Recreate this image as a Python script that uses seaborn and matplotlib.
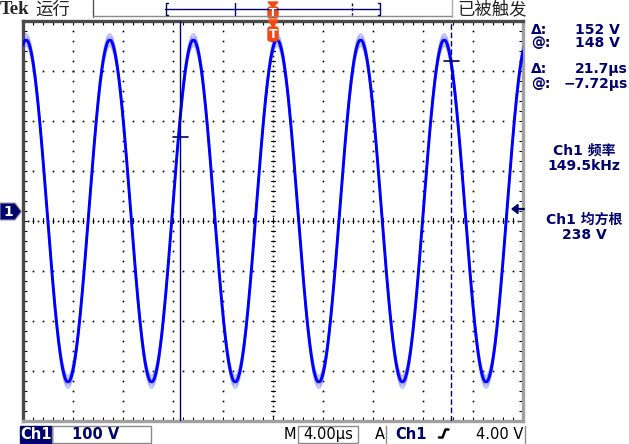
import numpy as np
import pandas as pd
import matplotlib
matplotlib.use("Agg")
import matplotlib.pyplot as plt
from matplotlib.patches import Polygon, Rectangle, FancyBboxPatch
from matplotlib.ticker import MultipleLocator
import seaborn as sns

# scope settings shown on screen
time_per_div_us = 4.0
volts_per_div = 100
t_range_us = [-20, 20]
v_range = [-420, 380]          # ground marker sits 0.2 div above centre

# waveform
freq_khz = 149.5
amp_v = 342
peak_t_us = 0.32
envelope_scales = [0.965, 0.98, 1.02, 1.035]

# cursors
cursor_t_us = [-7.44, 14.26]
cursor_v = [148, 300]
trig_level_v = 4

# readouts
readout_labels = ["Δ:", "@:", "Δ:", "@:"]
readout_values = ["152 V", "148 V", "21.7µs", "−7.72µs"]
meas_names = ["Ch1 频率", "Ch1 均方根"]
meas_values = ["149.5kHz", "238 V"]
header_left = ["Tek", "运行"]
header_right = "已被触发"
bottom_texts = ["Ch1", "100 V", "M", "4.00µs", "A", "Ch1", "4.00 V"]

NAVY = "#00006e"
ORANGE = "#f24a12"
CJK = ["DejaVu Sans", "Noto Sans CJK SC"]

sns.set_style("white")
plt.rcParams["font.family"] = CJK

fig = plt.figure(figsize=(6.29, 4.44), dpi=100)
W, H = 629, 444
ax = fig.add_axes([23 / W, (H - 421) / H, 500 / W, 400 / H])
ax.set_xlim(*t_range_us)
ax.set_ylim(*v_range)

# trace
t = np.linspace(t_range_us[0], t_range_us[1], 3001)
for s in envelope_scales:
    df = pd.DataFrame({"t": t, "v": s * amp_v * np.cos(2 * np.pi * freq_khz / 1000 * (t - peak_t_us))})
    sns.lineplot(data=df, x="t", y="v", ax=ax, color="#4a4aff", lw=1.3, alpha=0.35, zorder=3)
df = pd.DataFrame({"t": t, "v": amp_v * np.cos(2 * np.pi * freq_khz / 1000 * (t - peak_t_us))})
sns.lineplot(data=df, x="t", y="v", ax=ax, color="#0000ff", lw=2.1, zorder=4)

# graticule dots
dot = dict(ls="none", marker="s", ms=1.2, mew=0, color="black", zorder=2)
gy = np.arange(v_range[0], v_range[1] + 1, volts_per_div / 5)
gx = np.arange(t_range_us[0], t_range_us[1] + 0.01, time_per_div_us / 5)
for k in range(1, 10):
    xv = t_range_us[0] + k * time_per_div_us
    if k != 5:
        ax.plot(np.full_like(gy, xv), gy, **dot)
for k in range(1, 8):
    yv = v_range[0] + k * volts_per_div
    if k != 4:
        ax.plot(gx, np.full_like(gx, yv), **dot)
# centre cross with finer marks
yc = v_range[0] + 4 * volts_per_div
cx = np.arange(t_range_us[0], t_range_us[1] + 0.01, time_per_div_us / 10)
cy = np.arange(v_range[0], v_range[1] + 1, volts_per_div / 10)
ax.plot(cx, np.full_like(cx, yc), **dot)
ax.plot(np.zeros_like(cy), cy, **dot)
for xv in gx:
    ax.plot([xv, xv], [yc - 5, yc + 5], color="black", lw=0.8, zorder=2)
for yv in gy:
    ax.plot([-0.18, 0.18], [yv, yv], color="black", lw=0.8, zorder=2)

# border ticks and frame
ax.xaxis.set_major_locator(MultipleLocator(time_per_div_us))
ax.xaxis.set_minor_locator(MultipleLocator(time_per_div_us / 5))
ax.yaxis.set_major_locator(MultipleLocator(volts_per_div))
ax.yaxis.set_minor_locator(MultipleLocator(volts_per_div / 5))
ax.tick_params(which="both", direction="in", length=3, width=0.8, colors="black",
               top=True, right=True, bottom=True, left=True,
               labelbottom=False, labelleft=False)
ax.set_xlabel("")
ax.set_ylabel("")
for side in ["left", "top"]:
    ax.spines[side].set_color("#4a4a4a")
    ax.spines[side].set_linewidth(2.4)
for side in ["right", "bottom"]:
    ax.spines[side].set_color("#a0a0a0")
    ax.spines[side].set_linewidth(2.4)

# cursors
ax.axvline(cursor_t_us[0], color=NAVY, lw=1.0, zorder=5)
ax.axvline(cursor_t_us[1], color=NAVY, lw=1.0, ls=(0, (4, 2)), zorder=5)
for tc, vc in zip(cursor_t_us, cursor_v):
    ax.plot([tc - 0.6, tc + 0.6], [vc, vc], color=NAVY, lw=1.2, zorder=5)

# overlay in pixel coordinates
ov = fig.add_axes([0, 0, 1, 1], facecolor="none")
ov.set_xlim(0, W)
ov.set_ylim(H, 0)
ov.axis("off")

# trigger level arrow on right edge
y_tr = 211 - trig_level_v / 2
ov.add_patch(Polygon([[512, y_tr], [518, y_tr - 4.5], [518, y_tr + 4.5]], color=NAVY))
ov.plot([517, 524], [y_tr, y_tr], color=NAVY, lw=1.6)

# channel 1 ground marker
ov.add_patch(Polygon([[0, 203], [15, 203], [21.5, 211.5], [15, 220], [0, 220]],
                     facecolor=NAVY, edgecolor="#9a9aa8", lw=0.8))
ov.text(8, 212, "1", color="white", fontsize=10, weight="bold", ha="center", va="center")

# header
ov.text(0, 9.5, header_left[0], family="Liberation Serif", weight="bold", fontsize=13.5,
        va="center", ha="left")
ov.text(35, 9.5, header_left[1], family=CJK, fontsize=12.5, color="#222222", va="center")
ov.text(457, 9.5, header_right, family=CJK, fontsize=12.5, color="#222222", va="center")
ov.plot([93, 93], [0, 17], color="#555555", lw=1)
ov.plot([93, 452], [16.5, 16.5], color="#8a8a8a", lw=1)
ov.plot([452, 452], [0, 17], color="#aaaaaa", lw=1)

# record bracket
ov.plot([165, 380], [9, 9], color=NAVY, lw=1)
ov.plot([167.5, 165.5, 165.5, 167.5], [3, 3, 15, 15], color=NAVY, lw=1)
ov.plot([377.5, 379.5, 379.5, 377.5], [3, 3, 15, 15], color=NAVY, lw=1)
ov.plot([235, 235], [3, 15], color=NAVY, lw=1)
ov.plot([352, 352], [3, 15], color=NAVY, lw=1, ls=(0, (2, 1.5)))

# trigger position markers
for top in [2, 20]:
    h = 5 if top == 2 else 7
    ov.add_patch(Polygon([[268, top], [278, top], [273, top + h]], color=ORANGE))
    bh = 11 if top == 2 else 14
    ov.add_patch(FancyBboxPatch((268, top + h), 10, bh, boxstyle="round,pad=0,rounding_size=2",
                                color=ORANGE))
    ov.text(273, top + h + bh / 2 + 0.5, "T", color="white", fontsize=8 if top == 2 else 9,
            weight="bold", ha="center", va="center")

# cursor readouts
ys = [30, 43, 69, 84]
for lab, val, yy in zip(readout_labels, readout_values, ys):
    ov.text(531, yy, lab, color=NAVY, fontsize=10, weight="bold", va="center", ha="left")
    ov.text(628 if "µs" in val else 620, yy, val, color=NAVY, fontsize=10, weight="bold",
            va="center", ha="right")

# measurements
for name, val, yy in zip(meas_names, meas_values, [151, 220]):
    ov.text(584, yy, name, color=NAVY, fontsize=10, weight="bold", va="center", ha="center")
    ov.text(584, yy + 15, val, color=NAVY, fontsize=10, weight="bold", va="center", ha="center")

# bottom status bar
yb = 434
ov.add_patch(Rectangle((20, 425.5), 31.5, 17, color=NAVY))
ov.text(35.7, yb, bottom_texts[0], color="white", fontsize=10.5, weight="bold", ha="center", va="center")
ov.add_patch(Rectangle((52, 425.5), 99, 17, fill=False, edgecolor="#8a8a8a", lw=1))
ov.text(96, yb, bottom_texts[1], color=NAVY, fontsize=10.5, weight="bold", ha="center", va="center")
ov.text(290, yb, bottom_texts[2], color="black", fontsize=10.5, ha="center", va="center")
ov.add_patch(Rectangle((298, 425.5), 60, 17, fill=False, edgecolor="#8a8a8a", lw=1))
ov.text(328, yb, bottom_texts[3], color="black", fontsize=10.5, ha="center", va="center")
ov.text(380, yb, bottom_texts[4], color="black", fontsize=10.5, ha="center", va="center")
ov.plot([385.5, 385.5], [425.5, 442.5], color="#8a8a8a", lw=1)
ov.plot([525, 525], [425.5, 442.5], color="#8a8a8a", lw=1)
ov.text(411, yb, bottom_texts[5], color=NAVY, fontsize=10.5, weight="bold", ha="center", va="center")
ov.plot([439, 442.5, 445.5, 448.5], [437.5, 437.5, 429.5, 429.5], color="black", lw=1.8)
ov.text(523, yb, bottom_texts[6], color="black", fontsize=10.5, ha="right", va="center")

fig.savefig("out.png", dpi=100)
